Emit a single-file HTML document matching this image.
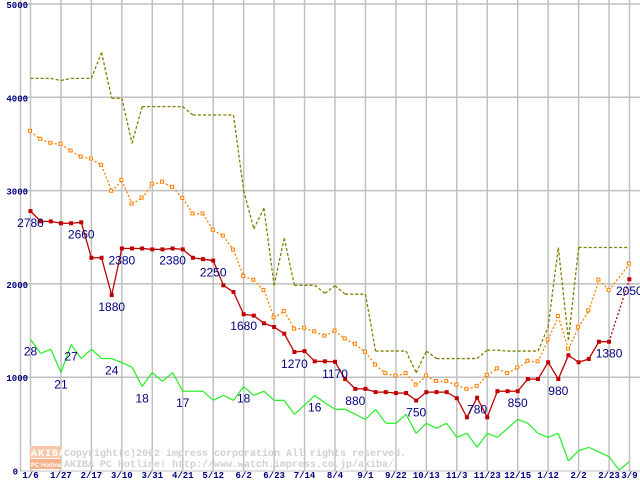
<!DOCTYPE html>
<html><head><meta charset="utf-8"><style>
html,body{margin:0;padding:0;background:#fff;}
svg{display:block;}
</style></head><body>
<svg id="chart" width="640" height="480" xmlns="http://www.w3.org/2000/svg" font-family="Liberation Sans, sans-serif"></svg>
<script>
const redPrices=[2780,2670,2670,2650,2650,2660,2280,2280,1880,2380,2380,2380,2370,2370,2380,2370,2280,2265,2250,1985,1913,1675,1660,1578,1538,1466,1270,1280,1170,1170,1165,980,875,875,840,840,830,830,750,840,840,840,775,570,780,570,850,850,850,980,980,1160,980,1235,1160,1195,1380,1380,null,2050];
const orangePrices=[3635,3550,3507,3496,3424,3360,3339,3270,2993,3110,2856,2920,3068,3090,3035,2917,2750,2750,2575,2513,2363,2080,2040,1930,1637,1705,1515,1525,1487,1440,1495,1410,1353,1267,1130,1040,1013,1040,916,1013,955,955,916,870,902,1020,1090,1040,1100,1170,1165,1400,1650,1300,1535,1710,2040,1930,null,2213];
const olivePrices=[4203,4203,4203,4180,4203,4203,4203,4480,3990,3990,3507,3900,3900,3900,3900,3900,3810,3810,3810,3810,3810,3000,2590,2810,1985,2490,1985,1985,1985,1900,1980,1890,1890,1890,1280,1280,1280,1280,1048,1280,1200,1200,1200,1200,1200,1290,1290,1280,1280,1280,1280,1540,2390,1400,2390,2390,2390,2390,2390,2390];
const greenPrices=[1405,1255,1300,1050,1350,1200,1300,1200,1200,1155,1110,900,1050,955,1050,850,850,850,752,805,752,900,805,850,752,752,602,700,805,725,656,656,602,548,656,506,506,602,398,506,452,506,356,398,249,398,356,452,548,506,398,356,398,102,212,249,198,148,5,95];
const redLabelIdx=[0,5,9,8,14,18,21,26,30,32,38,44,48,52,57,59];
const redLabelText=["2780","2660","2380","1880","2380","2250","1680","1270","1170","880","750","780","850","980","1380","2050"];
const greenLabelIdx=[0,3,4,8,11,15,21,28];
const greenLabelText=["28","21","27","24","18","17","18","16"];
const xTickLabels=["1/6","1/27","2/17","3/10","3/31","4/21","5/12","6/2","6/23","7/14","8/4","9/1","9/22","10/13","11/3","11/23","12/15","1/12","2/2","2/23","3/9"];
const yTicks=[0,1000,2000,3000,4000,5000];

const svg=document.getElementById('chart');
const NS='http://www.w3.org/2000/svg';
const X=i=>30.5+i*10.15;
const Y=v=>470.5-v*0.0933;
function mk(tag,attrs,parent){const e=document.createElementNS(NS,tag);for(const k in attrs)e.setAttribute(k,attrs[k]);(parent||svg).appendChild(e);return e;}

const grid=mk('g',{});


yTicks.forEach(v=>{if(v>0){mk('line',{x1:20,x2:640,y1:Y(v),y2:Y(v),stroke:'#c0c0c0','stroke-width':1.5},grid);}});
mk('line',{x1:20.5,x2:20.5,y1:0,y2:471,stroke:'#c0c0c0','stroke-width':1.5},grid);
xTickLabels.forEach((t,k)=>{const gx=k<20?30.5+k*30.45:629.5;mk('line',{x1:gx,x2:gx,y1:0,y2:471,stroke:'#c0c0c0','stroke-width':1.5},grid);});
mk('line',{x1:20,x2:640,y1:471,y2:471,stroke:'#c0c0c0','stroke-width':1},grid);

yTicks.forEach(v=>{const t=mk('text',{x:v==0?18:28,y:v==5000?8:Y(v)+4,'font-size':9,'font-weight':'bold',fill:'#000080','text-anchor':'end','font-family':'Liberation Mono, monospace'});


t.textContent=String(v);});
xTickLabels.forEach((s,k)=>{const gx=k<20?30.5+k*30.45:629.5;const t=mk('text',{x:gx,y:478,'font-size':9,'font-weight':'bold',fill:'#000080','text-anchor':'middle','font-family':'Liberation Mono, monospace'});


t.textContent=s;});

const wm=mk('g',{});


mk('rect',{x:30,y:446,width:31,height:12,fill:'#f8c8a8'},wm);
mk('rect',{x:30,y:459,width:31,height:10,fill:'#f4b088'},wm);
const w1=mk('text',{x:31,y:456,'font-size':10,'font-weight':'bold',fill:'#fff','font-family':'Liberation Mono, monospace','letter-spacing':1},wm);w1.textContent='AKIBA';
const w2=mk('text',{x:31,y:467,'font-size':6,'font-weight':'bold',fill:'#fff','font-family':'Liberation Sans, sans-serif'},wm);w2.textContent='PC Hotline!';
const w3=mk('text',{x:64,y:456,'font-size':10,'font-weight':'bold',fill:'#d0d0d0','font-family':'Liberation Mono, monospace'},wm);w3.textContent='Copyright(c)2002 impress corporation All rights reserved.';
const w4=mk('text',{x:64,y:467,'font-size':10,'font-weight':'bold',fill:'#d0d0d0','font-family':'Liberation Mono, monospace'},wm);w4.textContent='AKIBA PC Hotline!  http://www.watch.impress.co.jp/akiba/';

function series(data,name,color,dash,width){
  const g=mk('g',{});
  
  
  let prev=null;
  data.forEach((v,i)=>{
    if(v==null)return;
    if(prev!=null){
      const gap=i-prev>1;
      mk('line',{x1:X(prev),y1:Y(data[prev]),x2:X(i),y2:Y(v),stroke:color,'stroke-width':width,'stroke-dasharray':gap?'2,2':dash},g);
    }
    prev=i;
  });
  return g;
}
function markers(data,name,color,filled){
  const g=mk('g',{});
  
  
  data.forEach((v,i)=>{if(v==null)return;
    mk('rect',{x:X(i)-2,y:Y(v)-2,width:filled?4:3,height:filled?4:3,fill:filled?color:'#fff',stroke:filled?'none':color,'stroke-width':1},g);
  });
}
series(olivePrices,'olive-series','#808000','3,2',1.3);
series(greenPrices,'green-series','#22ee22','',1.2);
series(orangePrices,'orange-series','#ff8000','2,2',1.3);
markers(orangePrices,'orange-markers','#ff8000',false);
series(redPrices,'red-series','#c00000','',1.3);
markers(redPrices,'red-markers','#c00000',true);

function labels(idx,txt,src,name){
  const g=mk('g',{});
  
  
  idx.forEach((i,k)=>{const t=mk('text',{x:X(i),y:Y(src[i])+16,'font-size':12,fill:'#000080','text-anchor':'middle'},g);t.textContent=txt[k];});
}
labels(redLabelIdx,redLabelText,redPrices.map((v,i)=>v==null?0:v),'red-value-labels');
labels(greenLabelIdx,greenLabelText,greenPrices,'green-value-labels');
</script>
</body></html>
